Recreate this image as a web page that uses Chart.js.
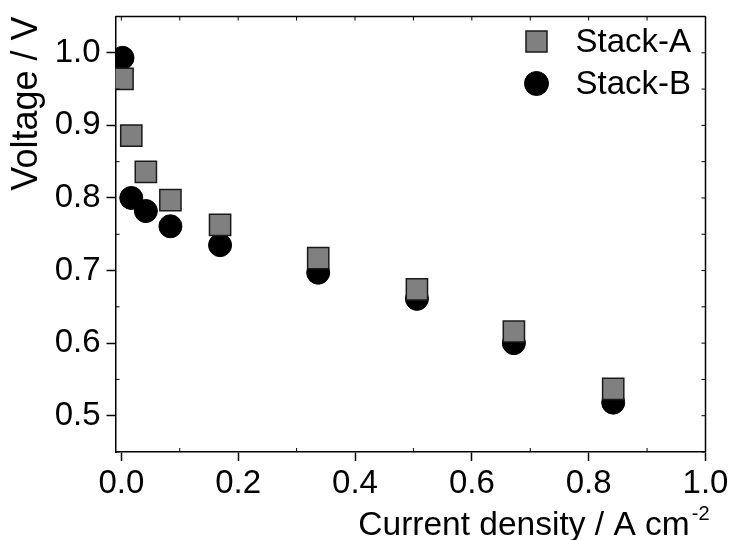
<!DOCTYPE html>
<html><head><meta charset="utf-8">
<script src="https://cdn.jsdelivr.net/npm/chart.js@4/dist/chart.umd.min.js"></script>
<style>html,body{margin:0;padding:0;background:#fff;} #c{display:block;}</style>
</head><body>
<canvas id="c" width="732" height="540" style="width:732px;height:540px"></canvas>
<script>
// ---- data ----
const seriesNames = ['Stack-A', 'Stack-B'];
const currentDensity = [0.002, 0.017, 0.042, 0.084, 0.169, 0.337, 0.506, 0.672, 0.842];
const voltageStackA = [0.964, 0.886, 0.836, 0.797, 0.763, 0.717, 0.674, 0.616, 0.537];
const voltageStackB = [0.993, 0.800, 0.782, 0.761, 0.735, 0.697, 0.661, 0.600, 0.518];
const xTickValues = [0.0, 0.2, 0.4, 0.6, 0.8, 1.0];
const xTickLabels = ['0.0', '0.2', '0.4', '0.6', '0.8', '1.0'];
const yTickValues = [0.5, 0.6, 0.7, 0.8, 0.9, 1.0];
const yTickLabels = ['0.5', '0.6', '0.7', '0.8', '0.9', '1.0'];
const xTitle = 'Current density / A cm';
const xTitleSup = '-2';
const yTitle = 'Voltage / V';

const FONT = "'Liberation Sans', Arial, sans-serif";

const toPoints = (xs, ys) => xs.map((x, i) => ({x: x, y: ys[i]}));

const frame = {
  id: 'frame',
  afterDraw(chart) {
    const ctx = chart.ctx, a = chart.chartArea;
    const xs = chart.scales.x, ys = chart.scales.y;
    ctx.save();
    ctx.strokeStyle = '#000';
    ctx.lineWidth = 1.5;
    ctx.beginPath();
    ctx.moveTo(a.left, a.top); ctx.lineTo(a.right, a.top);
    ctx.moveTo(a.right, a.top); ctx.lineTo(a.right, a.bottom);
    ctx.stroke();
    ctx.lineWidth = 1;
    ctx.beginPath();
    for (let i = 0; i <= 10; i++) {
      const px = xs.getPixelForValue(i / 10);
      ctx.moveTo(px, a.top); ctx.lineTo(px, a.top + 4);
      if (i % 2 === 1) { ctx.moveTo(px, a.bottom); ctx.lineTo(px, a.bottom - 4); }
    }
    for (let i = 0; i <= 12; i++) {
      const v = 0.45 + i * 0.05;
      const py = ys.getPixelForValue(v);
      ctx.moveTo(a.right, py); ctx.lineTo(a.right - 4, py);
      if (i % 2 === 0) { ctx.moveTo(a.left, py); ctx.lineTo(a.left + 4, py); }
    }
    ctx.stroke();

    // axis titles
    ctx.fillStyle = '#000';
    ctx.textBaseline = 'alphabetic';
    ctx.textAlign = 'left';
    const mainFont = '33.5px ' + FONT;
    const supFont = '20px ' + FONT;
    ctx.font = supFont;
    const supW = ctx.measureText(xTitleSup).width;
    ctx.font = mainFont;
    const mainW = ctx.measureText(xTitle).width;
    const endX = a.right + 4;
    const startX = endX - supW - 2 - mainW;
    ctx.fillText(xTitle, startX, 535);
    ctx.font = supFont;
    ctx.fillText(xTitleSup, startX + mainW + 2, 520);

    ctx.save();
    ctx.font = '36px ' + FONT;
    ctx.translate(37, a.top);
    ctx.rotate(-Math.PI / 2);
    ctx.textAlign = 'right';
    ctx.textBaseline = 'alphabetic';
    ctx.fillText(yTitle, 0, 0);
    ctx.restore();

    // legend
    const ds = chart.data.datasets;
    const mx = a.right - 169;
    const rows = [a.top + 25, a.top + 67];
    ds.forEach((d, i) => {
      const y = rows[i];
      ctx.fillStyle = d.backgroundColor;
      ctx.strokeStyle = d.borderColor;
      ctx.lineWidth = d.borderWidth;
      ctx.beginPath();
      if (d.pointStyle === 'rect') {
        ctx.rect(mx - 10.5, y - 10.5, 21, 21);
      } else {
        ctx.arc(mx, y, 12, 0, Math.PI * 2);
      }
      ctx.fill(); ctx.stroke();
      ctx.fillStyle = '#000';
      ctx.font = '33px ' + FONT;
      ctx.textAlign = 'left';
      ctx.textBaseline = 'middle';
      ctx.fillText(d.label, mx + 39, y + 1);
    });
    ctx.restore();
  }
};

new Chart(document.getElementById('c'), {
  type: 'scatter',
  data: {
    datasets: [
      {
        label: seriesNames[0],
        data: toPoints(currentDensity, voltageStackA),
        pointStyle: 'rect',
        pointRadius: 15,
        pointHoverRadius: 15,
        backgroundColor: '#808080',
        borderColor: '#1a1a1a',
        borderWidth: 1.5
      },
      {
        label: seriesNames[1],
        data: toPoints(currentDensity, voltageStackB),
        pointStyle: 'circle',
        pointRadius: 11.5,
        pointHoverRadius: 11.5,
        backgroundColor: '#000000',
        borderColor: '#000000',
        borderWidth: 1
      }
    ]
  },
  options: {
    responsive: false,
    animation: false,
    devicePixelRatio: 1,
    layout: {padding: {top: 16, right: 26.5, left: 0, bottom: 0}},
    plugins: {legend: {display: false}, tooltip: {enabled: false}},
    scales: {
      x: {
        type: 'linear',
        min: -0.01, max: 1.0,
        afterFit(s) { s.height = 88; s.paddingLeft = 0; s.paddingRight = 0; },
        afterBuildTicks(s) { s.ticks = xTickValues.map(v => ({value: v})); },
        border: {display: true, color: '#000', width: 1.5},
        grid: {display: true, drawOnChartArea: false, drawTicks: true, tickLength: 9, tickWidth: 1.5, tickColor: '#000'},
        ticks: {
          color: '#000', padding: 3, maxRotation: 0, autoSkip: false,
          font: {family: FONT, size: 33},
          callback: (v) => xTickLabels[xTickValues.findIndex(t => Math.abs(t - v) < 1e-9)]
        }
      },
      y: {
        type: 'linear',
        min: 0.45, max: 1.05,
        afterFit(s) { s.width = 115.5; s.paddingTop = 0; s.paddingBottom = 0; },
        afterBuildTicks(s) { s.ticks = yTickValues.map(v => ({value: v})); },
        border: {display: true, color: '#000', width: 1.5},
        grid: {display: true, drawOnChartArea: false, drawTicks: true, tickLength: 9, tickWidth: 1.5, tickColor: '#000'},
        ticks: {
          color: '#000', padding: 6, autoSkip: false,
          font: {family: FONT, size: 33},
          callback: (v) => yTickLabels[yTickValues.findIndex(t => Math.abs(t - v) < 1e-9)]
        }
      }
    }
  },
  plugins: [frame]
});
</script>
</body></html>
